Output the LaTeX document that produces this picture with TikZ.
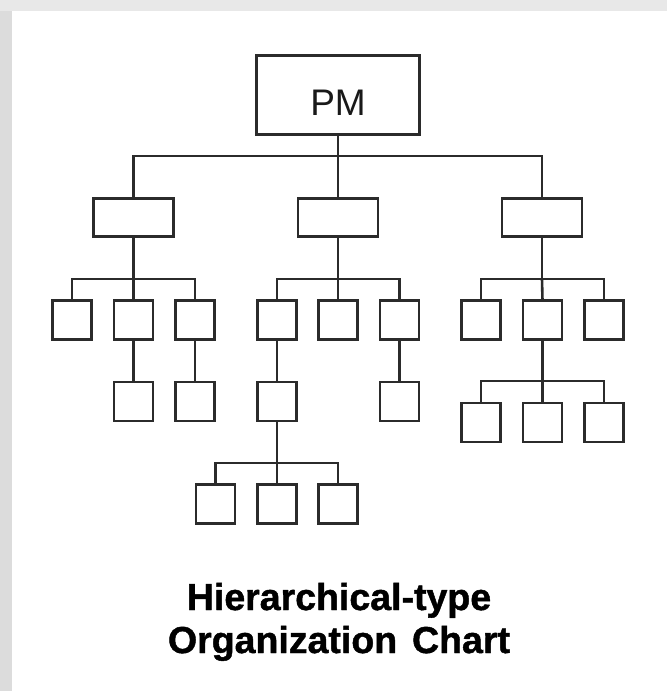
\documentclass[tikz,border=0pt]{standalone}
\usepackage{fontspec}
\setmainfont{Liberation Sans}
\newfontfamily\captionfont[FakeBold=1.2]{Liberation Sans Bold}
\definecolor{linegray}{HTML}{2B2B2B}
\definecolor{framegray}{HTML}{E8E8E8}
\definecolor{sidegray}{HTML}{DCDCDC}
\begin{document}
\begin{tikzpicture}[x=1pt,y=-1pt,
  unit/.style={draw=linegray, line width=2.6pt, fill=white, inner sep=0pt, outer sep=0pt},
  pmbox/.style={unit, minimum width=163pt, minimum height=79pt},
  deptbox/.style={unit, minimum width=80pt, minimum height=38pt},
  sqbox/.style={unit, minimum width=39pt, minimum height=39pt},
  link/.style={draw=linegray, line width=2.6pt, line join=miter},
  title/.style={anchor=base, inner sep=0pt, text=black, font=\captionfont\fontsize{37.5}{43}\selectfont}]

% page frame
\useasboundingbox (0,0) rectangle (667,691);
\fill[framegray] (0,0) rectangle (667,691);
\fill[sidegray] (0,11) rectangle (12,691);
\fill[white] (12,11) rectangle (667,691);

% top of the hierarchy
\node[pmbox] (pm) at (338,95) {};
\node[anchor=base, inner sep=0pt, text=black!90, font=\fontsize{37}{40}\selectfont] (pmlabel) at (338,115) {PM};

% second level
\node[deptbox] (d1) at (133.5,217.5) {};
\node[deptbox] (d2) at (338,217.5) {};
\node[deptbox] (d3) at (542,217.5) {};

% third level
\node[sqbox] (a1) at (72,320) {};
\node[sqbox] (a2) at (133.5,320) {};
\node[sqbox] (a3) at (195,320) {};
\node[sqbox] (b1) at (277,320) {};
\node[sqbox] (b2) at (338,320) {};
\node[sqbox] (b3) at (399.5,320) {};
\node[sqbox] (c1) at (481,320) {};
\node[sqbox] (c2) at (542.5,320) {};
\node[sqbox] (c3) at (604,320) {};

% fourth level
\node[sqbox] (a2x) at (133.5,401.5) {};
\node[sqbox] (a3x) at (195,401.5) {};
\node[sqbox] (b1x) at (277,401.5) {};
\node[sqbox] (b3x) at (399.5,401.5) {};
\node[sqbox] (c2x1) at (481,422.5) {};
\node[sqbox] (c2x2) at (542.5,422.5) {};
\node[sqbox] (c2x3) at (604,422.5) {};

% fifth level
\node[sqbox] (b1y1) at (215.5,504) {};
\node[sqbox] (b1y2) at (277,504) {};
\node[sqbox] (b1y3) at (338,504) {};

% bus junctions
\coordinate (pmbus) at (338,156);
\coordinate (d1bus) at (133.5,279);
\coordinate (d2bus) at (338,279);
\coordinate (d3bus) at (542,279);
\coordinate (c2bus) at (542.5,381);
\coordinate (b1bus) at (277,463);

% connectors
\draw[link] (pm.south) -- (pmbus);
\draw[link] (pmbus) -| (d1.north);
\draw[link] (pmbus) -| (d3.north);
\draw[link] (pmbus) -- (d2.north);

\draw[link] (d1.south) -- (d1bus);
\draw[link] (d1bus) -| (a1.north);
\draw[link] (d1bus) -| (a3.north);
\draw[link] (d1bus) -- (a2.north);

\draw[link] (d2.south) -- (d2bus);
\draw[link] (d2bus) -| (b1.north);
\draw[link] (d2bus) -| (b3.north);
\draw[link] (d2bus) -- (b2.north);

\draw[link] (d3.south) -- (d3bus);
\draw[link] (d3bus) -| (c1.north);
\draw[link] (d3bus) -| (c3.north);
\draw[link] (d3bus) -- (c2.north);

\draw[link] (a2.south) -- (a2x.north);
\draw[link] (a3.south) -- (a3x.north);
\draw[link] (b1.south) -- (b1x.north);
\draw[link] (b3.south) -- (b3x.north);

\draw[link] (c2.south) -- (c2bus);
\draw[link] (c2bus) -| (c2x1.north);
\draw[link] (c2bus) -| (c2x3.north);
\draw[link] (c2bus) -- (c2x2.north);

\draw[link] (b1x.south) -- (b1bus);
\draw[link] (b1bus) -| (b1y1.north);
\draw[link] (b1bus) -| (b1y3.north);
\draw[link] (b1bus) -- (b1y2.north);

% caption
\node[title] (title1) at (339,610) {Hierarchical-type};
\node[title] (title2) at (339,653) {Organization\hspace{0.12em} Chart};
\end{tikzpicture}
\end{document}
